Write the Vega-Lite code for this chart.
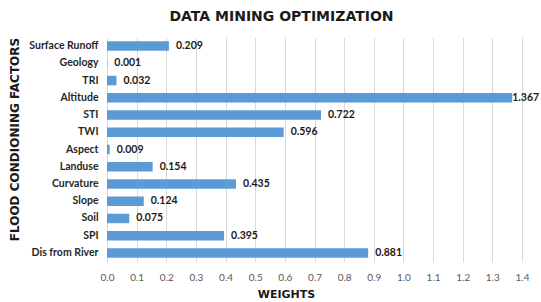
{
  "$schema": "https://vega.github.io/schema/vega-lite/v6.json",
  "width": 415,
  "height": 225,
  "autosize": {"type": "none"},
  "padding": {"left": 107, "top": 37, "right": 19, "bottom": 40},
  "background": "white",
  "title": {
    "text": "DATA MINING OPTIMIZATION",
    "anchor": "middle",
    "dx": -33,
    "offset": 13,
    "font": "DejaVu Sans",
    "fontSize": 14,
    "fontWeight": "bold",
    "color": "#1a1a1a"
  },
  "data": {
    "values": [
      {"factor": "Surface Runoff", "weight": 0.209},
      {"factor": "Geology", "weight": 0.001},
      {"factor": "TRI", "weight": 0.032},
      {"factor": "Altitude", "weight": 1.367},
      {"factor": "STI", "weight": 0.722},
      {"factor": "TWI", "weight": 0.596},
      {"factor": "Aspect", "weight": 0.009},
      {"factor": "Landuse", "weight": 0.154},
      {"factor": "Curvature", "weight": 0.435},
      {"factor": "Slope", "weight": 0.124},
      {"factor": "Soil", "weight": 0.075},
      {"factor": "SPI", "weight": 0.395},
      {"factor": "Dis from River", "weight": 0.881}
    ]
  },
  "encoding": {
    "y": {
      "field": "factor",
      "type": "nominal",
      "sort": null,
      "scale": {"paddingInner": 0.45, "paddingOuter": 0.25},
      "axis": {
        "title": "FLOOD CONDIONING FACTORS",
        "titleFont": "DejaVu Sans",
        "titleFontSize": 12,
        "titleFontWeight": "bold",
        "titleColor": "#1a1a1a",
        "titleX": -93,
        "titleY": 102,
        "titleAngle": -90,
        "titleAlign": "center",
        "titleBaseline": "middle",
        "labelFont": "Lato",
        "labelFontSize": 10.5,
        "labelFontWeight": "bold",
        "labelColor": "#262626",
        "labelPadding": 9,
        "ticks": false,
        "domain": false
      }
    },
    "x": {
      "field": "weight",
      "type": "quantitative",
      "scale": {"domain": [0, 1.4], "nice": false},
      "axis": {
        "title": "WEIGHTS",
        "titleFont": "DejaVu Sans",
        "titleFontSize": 11,
        "titleFontWeight": "bold",
        "titleColor": "#1a1a1a",
        "titleX": 179,
        "titleY": 32,
        "titleBaseline": "middle",
        "values": [0, 0.1, 0.2, 0.3, 0.4, 0.5, 0.6, 0.7, 0.8, 0.9, 1.0, 1.1, 1.2, 1.3, 1.4],
        "format": ".1f",
        "labelFont": "Lato",
        "labelFontSize": 10,
        "labelColor": "#595959",
        "labelPadding": 10,
        "labelFlush": false,
        "ticks": false,
        "domain": false,
        "grid": true,
        "gridColor": "#d9d9d9",
        "gridWidth": 1
      }
    }
  },
  "layer": [
    {"mark": {"type": "bar", "color": "#5b9bd5"}},
    {
      "transform": [{"filter": "datum.weight < 1"}],
      "mark": {
        "type": "text",
        "align": "left",
        "baseline": "middle",
        "dx": 7,
        "font": "Lato",
        "fontSize": 10.5,
        "fontWeight": "bold",
        "color": "#1a1a1a"
      },
      "encoding": {
        "text": {"field": "weight", "type": "quantitative", "format": ".3f"}
      }
    },
    {
      "transform": [{"filter": "datum.weight >= 1"}],
      "mark": {
        "type": "text",
        "align": "left",
        "baseline": "middle",
        "dx": 0,
        "font": "Lato",
        "fontSize": 10.5,
        "fontWeight": "bold",
        "color": "#1a1a1a"
      },
      "encoding": {
        "text": {"field": "weight", "type": "quantitative", "format": ".3f"}
      }
    }
  ],
  "config": {
    "view": {"stroke": null}
  }
}
